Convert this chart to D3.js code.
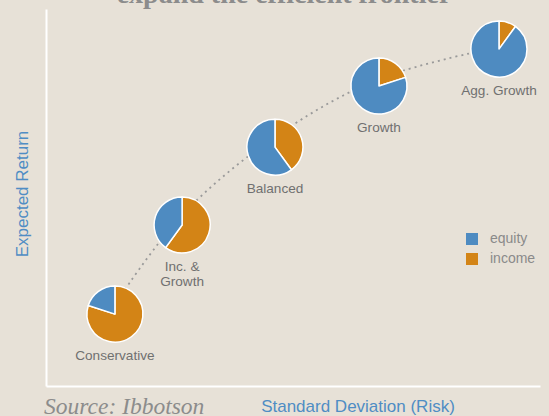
<!DOCTYPE html>
<html>
<head>
<meta charset="utf-8">
<script src="https://cdn.jsdelivr.net/npm/d3@7"></script>
<style>
  body { margin: 0; background: #e7e1d7; }
  svg { display: block; }
  .pie-label, .legend text { font-family: "Liberation Sans", Arial, sans-serif; }
</style>
</head>
<body>
<div id="chart"></div>
<script>
// portfolios
const portfolios = ['Conservative', 'Inc. & Growth', 'Balanced', 'Growth', 'Agg. Growth']
const risk = [2.79, 5.51, 9.27, 13.48, 18.34]
const expectedReturn = [2.67, 5.98, 8.87, 11.14, 12.51]
const equityShare = [20, 40, 60, 80, 90]
const incomeShare = [80, 60, 40, 20, 10]

// efficient frontier (dotted curve)
const frontierRisk = [2.79, 5.51, 9.27, 13.48, 18.34]
const frontierReturn = [3.04, 6.35, 9.25, 11.4, 12.59]

const seriesNames = ['equity', 'income']

const width = 549
const height = 416
const margins = {top: 9, left: 46, right: 9, bottom: 30}

const svg = d3.select('#chart')
  .append('svg')
    .attr('width', width)
    .attr('height', height)

svg.append('rect')
  .attr('width', width)
  .attr('height', height)
  .attr('fill', '#e7e1d7')

const x = d3.scaleLinear().domain([0, 20]).range([margins.left, width - margins.right])
const y = d3.scaleLinear().domain([0, 14]).range([height - margins.bottom, margins.top])

const color = d3.scaleOrdinal()
  .domain(seriesNames)
  .range(['#4e8bc1', '#d38416'])

// title (cut off at top, as in the original)
svg.append('text')
  .attr('x', 284)
  .attr('y', 3)
  .attr('text-anchor', 'middle')
  .attr('font-family', '"Liberation Serif", "Times New Roman", serif')
  .attr('font-weight', 'bold')
  .attr('font-size', 28)
  .attr('fill', '#8c8c8c')
  .text('expand the efficient frontier')

// axes: plain white lines
const axesG = svg.append('g').classed('axes', true)
axesG.append('g')
  .attr('transform', 'translate(0,' + y(0) + ')')
  .call(d3.axisBottom(x).ticks(0).tickSize(0).tickFormat(''))
axesG.append('g')
  .attr('transform', 'translate(' + x(0) + ',0)')
  .call(d3.axisLeft(y).ticks(0).tickSize(0).tickFormat(''))
axesG.selectAll('.domain')
  .attr('stroke', '#ffffff')
  .attr('stroke-width', 2)

// axis labels
svg.append('text')
  .attr('transform', 'translate(28,' + 194 + ') rotate(-90)')
  .attr('text-anchor', 'middle')
  .attr('font-family', '"Liberation Sans", Arial, sans-serif')
  .attr('font-size', 17)
  .attr('fill', '#4f8dc4')
  .text('Expected Return')

svg.append('text')
  .attr('x', 358)
  .attr('y', 412)
  .attr('text-anchor', 'middle')
  .attr('font-family', '"Liberation Sans", Arial, sans-serif')
  .attr('font-size', 17)
  .attr('fill', '#4f8dc4')
  .text('Standard Deviation (Risk)')

svg.append('text')
  .attr('x', 44)
  .attr('y', 414)
  .attr('font-family', '"Liberation Serif", "Times New Roman", serif')
  .attr('font-style', 'italic')
  .attr('font-size', 23.5)
  .attr('fill', '#8c8c8c')
  .text('Source: Ibbotson')

// frontier
const frontier = frontierRisk.map((r, i) => ({r: r, ret: frontierReturn[i]}))
svg.append('path')
  .datum(frontier)
  .attr('fill', 'none')
  .attr('stroke', '#9a9a9a')
  .attr('stroke-width', 1.8)
  .attr('stroke-dasharray', '2,4')
  .attr('d', d3.line().x(d => x(d.r)).y(d => y(d.ret)).curve(d3.curveCatmullRom))

// pies
const data = portfolios.map((name, i) => ({
  name: name,
  risk: risk[i],
  ret: expectedReturn[i],
  parts: [{key: 'income', value: incomeShare[i]}, {key: 'equity', value: equityShare[i]}]
}))

const pie = d3.pie().sort(null).value(d => d.value)
const arc = d3.arc().innerRadius(0).outerRadius(28)

const pieG = svg.selectAll('g.pie')
  .data(data)
  .enter()
  .append('g')
    .classed('pie', true)
    .attr('transform', d => 'translate(' + x(d.risk) + ',' + y(d.ret) + ')')

pieG.selectAll('path')
  .data(d => pie(d.parts))
  .enter()
  .append('path')
    .attr('d', arc)
    .attr('fill', d => color(d.data.key))
    .attr('stroke', '#ffffff')
    .attr('stroke-width', 1.5)
    .attr('stroke-linejoin', 'round')

pieG.append('text')
  .classed('pie-label', true)
  .attr('text-anchor', 'middle')
  .attr('font-size', 13.6)
  .attr('fill', '#707070')
  .each(function (d) {
    // "Inc. & Growth" wraps to two lines
    const lines = d.name === 'Inc. & Growth' ? ['Inc. &', 'Growth'] : [d.name]
    const text = d3.select(this)
    lines.forEach((l, j) => {
      text.append('tspan')
        .attr('x', 0)
        .attr('y', 46 + j * 15)
        .text(l)
    })
  })

// legend
const legendG = svg.append('g')
  .classed('legend', true)
  .attr('transform', 'translate(466,233)')

const legendItems = legendG.selectAll('g')
  .data(seriesNames)
  .enter()
  .append('g')
    .attr('transform', (d, i) => 'translate(0,' + i * 20 + ')')

legendItems.append('rect')
  .attr('width', 12)
  .attr('height', 12)
  .attr('fill', d => color(d))

legendItems.append('text')
  .attr('x', 24)
  .attr('y', 10)
  .attr('font-size', 14)
  .attr('fill', '#8a8a8a')
  .text(d => d)
</script>
</body>
</html>
